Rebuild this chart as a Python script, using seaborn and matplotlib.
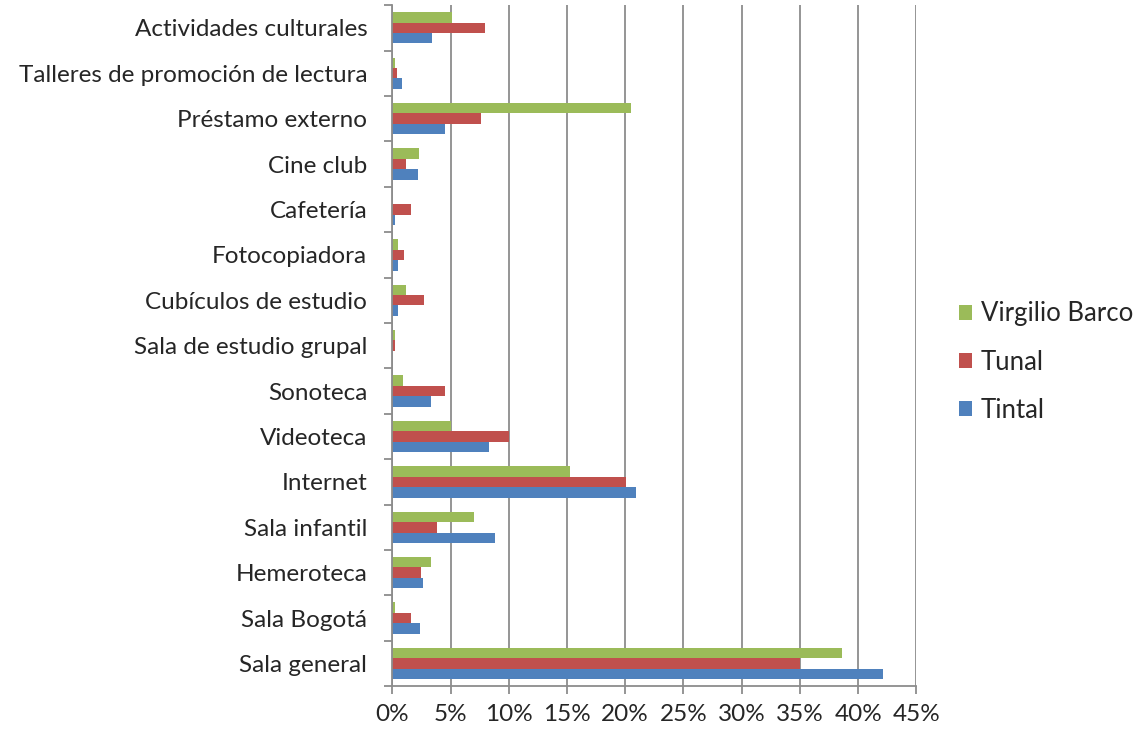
import seaborn as sns
import matplotlib.pyplot as plt
import pandas as pd
from matplotlib.ticker import PercentFormatter, FixedLocator

# servicios, de arriba hacia abajo
servicios = [
    "Actividades culturales", "Talleres de promoción de lectura",
    "Préstamo externo", "Cine club", "Cafetería", "Fotocopiadora",
    "Cubículos de estudio", "Sala de estudio grupal", "Sonoteca",
    "Videoteca", "Internet", "Sala infantil", "Hemeroteca",
    "Sala Bogotá", "Sala general",
]

# porcentajes
virgilio_barco = [5.15, 0.2, 20.5, 2.3, 0.0, 0.5, 1.2, 0.2, 0.9, 5.0, 15.3, 7.0, 3.3, 0.2, 38.6]
tunal = [8.0, 0.4, 7.65, 1.2, 1.6, 1.0, 2.75, 0.2, 4.5, 10.0, 20.1, 3.85, 2.5, 1.6, 35.0]
tintal = [3.4, 0.85, 4.5, 2.2, 0.2, 0.45, 0.5, 0.0, 3.3, 8.3, 20.9, 8.8, 2.6, 2.4, 42.1]

bibliotecas = ["Virgilio Barco", "Tunal", "Tintal"]
colores = ["#9BBB59", "#C0504D", "#4F81BD"]

df = pd.DataFrame({
    "Servicio": servicios * 3,
    "Biblioteca": [b for b in bibliotecas for _ in servicios],
    "Porcentaje": virgilio_barco + tunal + tintal,
})

sns.set_style("white")
plt.rcParams["font.family"] = ["Lato", "DejaVu Sans"]

fig = plt.figure(figsize=(11.47, 7.30), dpi=100)
ax = fig.add_axes([0.342, 0.06, 0.457, 0.933])

sns.barplot(data=df, y="Servicio", x="Porcentaje", hue="Biblioteca",
            order=servicios, hue_order=bibliotecas, palette=colores,
            orient="h", width=0.69, errorbar=None, ax=ax,
            saturation=1, linewidth=0)

ax.set_xlim(0, 45)
ax.set_xticks(range(0, 46, 5))
ax.xaxis.set_major_formatter(PercentFormatter(decimals=0))
ax.grid(axis="x", color="#8c8c8c", linewidth=1.3)
ax.set_axisbelow(True)
ax.set_xlabel("")
ax.set_ylabel("")

for s in ["top", "right"]:
    ax.spines[s].set_visible(False)
for s in ["left", "bottom"]:
    ax.spines[s].set_color("#8c8c8c")
    ax.spines[s].set_linewidth(1.3)

ax.tick_params(axis="x", direction="out", length=6, color="#8c8c8c",
               width=1.3, labelsize=17.5, pad=7, bottom=True)
ax.tick_params(axis="y", which="major", length=0, labelsize=17.5, pad=18)
ax.yaxis.set_minor_locator(FixedLocator([i + 0.5 for i in range(-1, len(servicios))]))
ax.tick_params(axis="y", which="minor", direction="out", length=6,
               color="#8c8c8c", width=1.3, left=True)

ax.legend(loc="center left", bbox_to_anchor=(0.816, 0.504),
          bbox_transform=fig.transFigure, frameon=False, fontsize=18.5,
          handlelength=0.5, handleheight=0.5, handletextpad=0.35,
          labelspacing=0.9)

fig.savefig("out.png", dpi=100)
